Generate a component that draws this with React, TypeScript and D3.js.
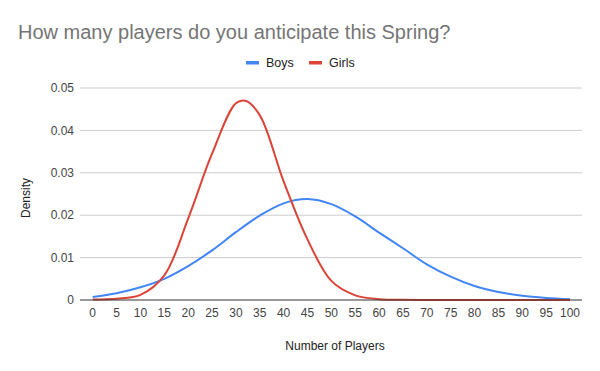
import React from "react";
import * as d3 from "d3";

const title = "How many players do you anticipate this Spring?";
const xTicks = d3.range(0, 101, 5);
const yTicks = [0, 0.01, 0.02, 0.03, 0.04, 0.05];
const yTickLabels = ["0", "0.01", "0.02", "0.03", "0.04", "0.05"];

const boysX = [0, 5, 10, 15, 20, 25, 30, 35, 40, 45, 50, 55, 60, 65, 70, 75, 80, 85, 90, 95, 100];
const boysY = [0.0007, 0.0016, 0.003, 0.005, 0.008, 0.0117, 0.016, 0.0199, 0.0228, 0.0238, 0.0226, 0.0197, 0.0159, 0.0122, 0.0084, 0.0055, 0.0033, 0.0019, 0.001, 0.0005, 0.0002];

const girlsX = [0, 5, 10, 15, 20, 25, 30, 32, 35, 40, 45, 50, 55, 60, 65, 70, 75, 80, 85, 90, 95, 100];
const girlsY = [0.0001, 0.0003, 0.0012, 0.0058, 0.0192, 0.0345, 0.0464, 0.047, 0.0436, 0.028, 0.0143, 0.0045, 0.0011, 0.0002, 0.00003, 0, 0, 0, 0, 0, 0, 0];

const series = [
  { name: "Boys", color: "#4285F4", xs: boysX, ys: boysY },
  { name: "Girls", color: "#DB4437", xs: girlsX, ys: girlsY },
];

export default function App() {
  const W = 600, H = 371;
  const x = d3.scaleLinear().domain([0, 100]).range([92.7, 570]);
  const y = d3.scaleLinear().domain([0, 0.05]).range([300, 88]);
  const font = "Arial, 'Liberation Sans', sans-serif";
  const line = d3
    .line<[number, number]>()
    .x((d) => x(d[0]))
    .y((d) => Math.min(y(0), y(d[1])))
    .curve(d3.curveCatmullRom.alpha(0.5));

  return (
    <svg width={W} height={H} style={{ position: "absolute", left: 0, top: 0, background: "#fff" }} fontFamily={font}>
      <rect width={W} height={H} fill="#fff" />
      <text x={18} y={39} fontSize={20} fill="#757575">{title}</text>
      {/* legend */}
      <g fontSize={12.5} fill="#222">
        <rect x={246} y={61} width={13} height={3.5} fill={series[0].color} />
        <text x={266} y={67}>Boys</text>
        <rect x={309} y={61} width={13} height={3.5} fill={series[1].color} />
        <text x={329} y={67}>Girls</text>
      </g>
      {/* gridlines */}
      {yTicks.map((t, i) =>
        i === 0 ? null : (
          <line key={t} x1={80} x2={582} y1={y(t)} y2={y(t)} stroke="#ccc" strokeWidth={1} />
        )
      )}
      {yTicks.map((t, i) => (
        <text key={"l" + t} x={74} y={y(t)} dy="0.35em" textAnchor="end" fontSize={12} fill="#444">
          {yTickLabels[i]}
        </text>
      ))}
      {xTicks.map((t) => (
        <text key={"x" + t} x={x(t)} y={313} dy="0.35em" textAnchor="middle" fontSize={12} fill="#444">
          {t}
        </text>
      ))}
      {series.map((s) => (
        <path
          key={s.name}
          d={line(s.xs.map((v, i) => [v, s.ys[i]]) as [number, number][]) || ""}
          fill="none"
          stroke={s.color}
          strokeWidth={2}
          strokeLinejoin="round"
        />
      ))}
      <line x1={80} x2={582} y1={y(0)} y2={y(0)} stroke="#333" strokeWidth={1} />
      <text x={335} y={346} dy="0.35em" textAnchor="middle" fontSize={12} fill="#222">
        Number of Players
      </text>
      <text
        transform={`translate(26,198) rotate(-90)`}
        dy="0.35em"
        textAnchor="middle"
        fontSize={12}
        fill="#222"
      >
        Density
      </text>
    </svg>
  );
}
